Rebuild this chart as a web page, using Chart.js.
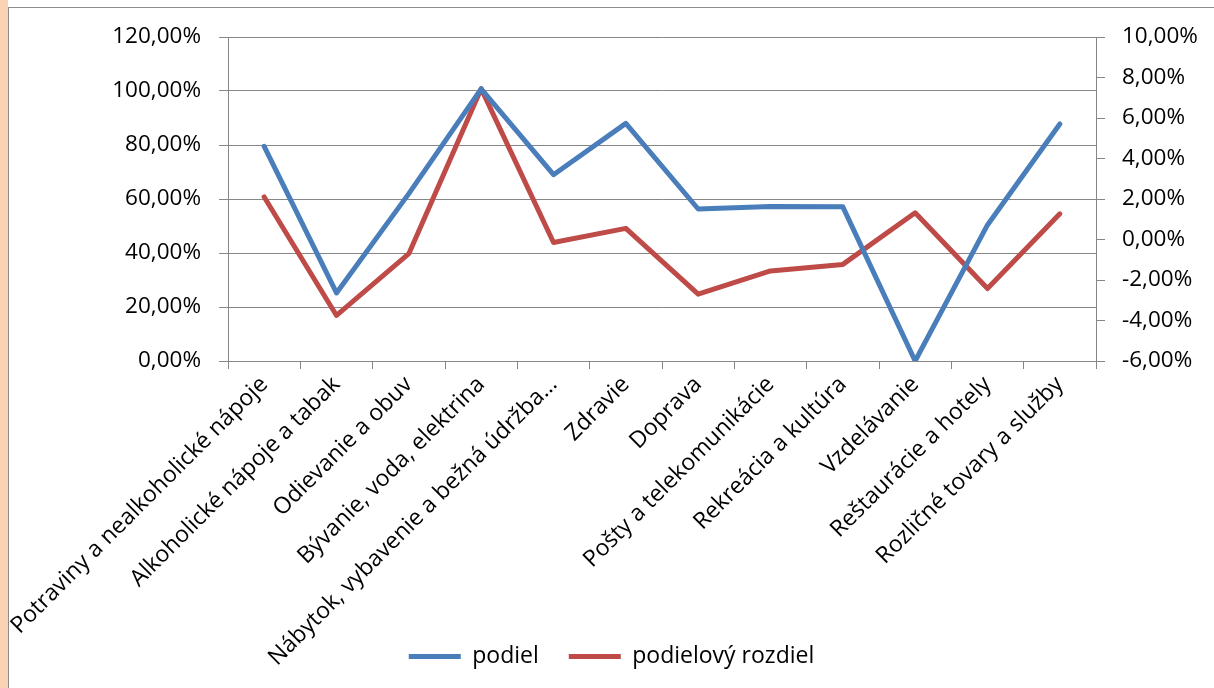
<!DOCTYPE html>
<html>
<head>
<meta charset="utf-8">
<script src="https://cdn.jsdelivr.net/npm/chart.js@4"></script>
<style>
    html, body { margin: 0; padding: 0; background: #fff; }
    body { width: 1214px; height: 688px; position: relative; overflow: hidden; }
    .strip { position: absolute; left: 0; top: 0; width: 8px; height: 688px; background: #fcd2b4; }
    .frame { position: absolute; left: 8px; top: 7px; width: 1206px; height: 681px;
             border-left: 1px solid #8c8c8c; border-top: 1px solid #8c8c8c; box-sizing: border-box; }
    .wrap { position: absolute; left: 9px; top: 8px; width: 1205px; height: 680px; }
</style>
</head>
<body>
<div class="strip"></div>
<div class="frame"></div>
<div class="wrap"><canvas id="chart"></canvas></div>
<script>
/* ── data ── */
const categories = [
    "Potraviny a nealkoholické nápoje",
    "Alkoholické nápoje a tabak",
    "Odievanie a obuv",
    "Bývanie, voda, elektrina",
    "Nábytok, vybavenie a bežná údržba…",
    "Zdravie",
    "Doprava",
    "Pošty a telekomunikácie",
    "Rekreácia a kultúra",
    "Vzdelávanie",
    "Reštaurácie a hotely",
    "Rozličné tovary a služby"
];
const podiel = [79.5, 25.2, 62, 100.8, 69, 88, 56.3, 57.2, 57.1, 0, 50.4, 87.8];
const podielovyRozdiel = [2.1, -3.75, -0.7, 7.45, -0.15, 0.55, -2.7, -1.55, -1.23, 1.32, -2.42, 1.27];
const leftTicks = { min: 0, max: 120, step: 20 };
const rightTicks = { min: -6, max: 10, step: 2 };

const FONT = "'Open Sans', sans-serif";
const GRID = "#868686";
const fmtPct = v => v.toFixed(2).replace(".", ",") + "%";

// x labels are clipped to the scale box, so let the box run to the bottom once laid out
const unclipLabels = {
    id: "unclipLabels",
    afterLayout(chart) { chart.scales.x.bottom = chart.height; }
};

// fixed side width, and no extra top/bottom room for the tick labels
const fixY = w => s => {
    s.width = w;
    s.paddingTop = 0;
    s.paddingBottom = 0;
};

new Chart(document.getElementById("chart"), {
    type: "line",
    data: {
        labels: categories,
        datasets: [{
            label: "podiel",
            data: podiel,
            yAxisID: "y",
            borderColor: "#4a7ebb",
            backgroundColor: "#4a7ebb",
            borderWidth: 5,
            pointRadius: 0,
            tension: 0,
            borderCapStyle: "round",
            borderJoinStyle: "round"
        }, {
            label: "podielový rozdiel",
            data: podielovyRozdiel,
            yAxisID: "y1",
            borderColor: "#be4b48",
            backgroundColor: "#be4b48",
            borderWidth: 5,
            pointRadius: 0,
            tension: 0,
            borderCapStyle: "round",
            borderJoinStyle: "round"
        }]
    },
    plugins: [unclipLabels],
    options: {
        responsive: true, maintainAspectRatio: false,
        animation: false,
        layout: { padding: { top: 29, left: 0, right: 0, bottom: 10 } },
        plugins: {
            tooltip: { enabled: false },
            legend: {
                position: "bottom",
                labels: {
                    color: "#000",
                    font: { family: FONT, size: 23 },
                    usePointStyle: true,
                    pointStyle: "line",
                    pointStyleWidth: 52,
                    boxHeight: 20,
                    padding: 30
                }
            }
        },
        scales: {
            x: {
                offset: true,
                grid: { drawOnChartArea: false, drawTicks: true, tickLength: 8, color: GRID, offset: true },
                border: { display: false },
                ticks: {
                    color: "#000", font: { family: FONT, size: 23 },
                    minRotation: 45, maxRotation: 45, autoSkip: false, padding: 2
                },
                afterFit: s => {
                    s.height = 254;
                    s.paddingLeft = 0;
                    s.paddingRight = 0;
                }
            },
            y: {
                position: "left",
                min: leftTicks.min, max: leftTicks.max,
                grid: { color: GRID, tickLength: 9 },
                border: { color: GRID },
                ticks: {
                    stepSize: leftTicks.step, color: "#000",
                    font: { family: FONT, size: 22.5 }, padding: 18,
                    callback: v => fmtPct(v)
                },
                afterFit: fixY(219)
            },
            y1: {
                position: "right",
                min: rightTicks.min, max: rightTicks.max,
                grid: { drawOnChartArea: false, color: GRID, tickLength: 9 },
                border: { color: GRID },
                ticks: {
                    stepSize: rightTicks.step, color: "#000",
                    font: { family: FONT, size: 22.5 }, padding: 17,
                    callback: v => fmtPct(v)
                },
                afterFit: fixY(118)
            }
        }
    }
});
</script>
</body>
</html>
